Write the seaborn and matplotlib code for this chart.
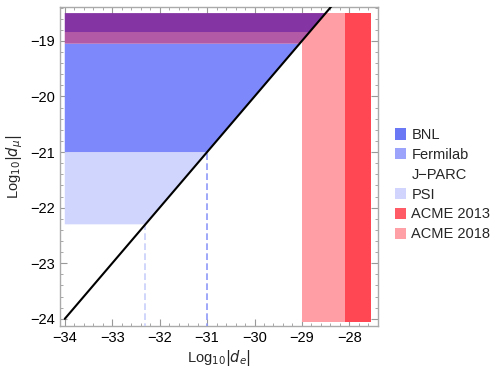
import numpy as np
import matplotlib
matplotlib.use("Agg")
import matplotlib.pyplot as plt
from matplotlib.patches import Patch
import seaborn as sns

# diagonal line (endpoints)
line_x = [-34.0, -27.4]
line_y = [-24.0, -17.4]

# horizontal muon-EDM bands: (lower, upper, colour) left of the line
band_lo = [-22.3, -21.0, -19.05, -18.84]
band_hi = [-21.0, -19.05, -18.84, -18.5]
band_col = ["#d0d5fd", "#7d89fb", "#b25aa6", "#8534a3"]

# electron-EDM bands: x ranges
acme_lo = [-29.0, -28.1]
acme_hi = [-28.1, -27.55]
acme_col = ["#ff9ea4", "#ff4753"]
acme_ylo = -24.05
acme_yhi = -18.5

# dashed projection lines
dash_x = [-32.3, -31.0]
dash_top = [-22.3, -21.0]
dash_col = ["#c8cefb", "#8e99f7"]

legend_labels = ["BNL", "Fermilab", "J\u2212PARC", "PSI", "ACME 2013", "ACME 2018"]
legend_cols = ["#6b78f6", "#9ba4fa", "none", "#d1d5fd", "#ff5b66", "#ff9fa6"]

sns.set_style("ticks")
plt.rcParams['font.family'] = ['Liberation Sans', 'DejaVu Sans']

fig = plt.figure(figsize=(4.92, 3.68), dpi=100)
ax = fig.add_axes([0.122, 0.114, 0.646, 0.867])

for lo, hi, c in zip(band_lo, band_hi, band_col):
    ys = np.array([lo, hi])
    xr = np.interp(ys, line_y, line_x)
    ax.fill([-34, xr[0], xr[1], -34], [lo, lo, hi, hi], color=c, lw=0, zorder=2)

for lo, hi, c in zip(acme_lo, acme_hi, acme_col):
    ax.fill_between([lo, hi], acme_ylo, acme_yhi, color=c, lw=0, zorder=1)

for x, top, c in zip(dash_x, dash_top, dash_col):
    ax.plot([x, x], [-24.2, top], ls=(0, (4, 2)), color=c, lw=1.2, zorder=3)

sns.lineplot(x=line_x, y=line_y, ax=ax, color="black", lw=1.5, zorder=4)

ax.set_xlim(-34.1, -27.42)
ax.set_ylim(-24.13, -18.39)
ax.set_xticks(np.arange(-34, -27, 1))
ax.set_yticks(np.arange(-24, -18, 1))
ax.set_xticklabels([f"\u2212{abs(v)}" for v in range(-34, -27)])
ax.set_yticklabels([f"\u2212{abs(v)}" for v in range(-24, -18)])
ax.set_xticks(np.arange(-34, -27.4, 0.2), minor=True)
ax.set_yticks(np.arange(-24, -18.3, 0.2), minor=True)
ax.tick_params(which="both", direction="in", top=True, right=True,
               color="#999999", labelsize=10.5, labelcolor="black")
ax.tick_params(which="major", length=5, width=0.8)
ax.tick_params(which="minor", length=2.5, width=0.6)
for s in ax.spines.values():
    s.set_color("#aaaaaa")
    s.set_linewidth(1.0)

ax.set_xlabel(r"Log$_{10}|d_e|$", fontsize=10.5, labelpad=2)
ax.set_ylabel(r"Log$_{10}|d_\mu|$", fontsize=10.5, labelpad=4)

handles = [Patch(facecolor=c, edgecolor="none") for c in legend_cols]
fig.legend(handles, legend_labels, loc="upper left",
           bbox_to_anchor=(0.79, 0.668), frameon=False, fontsize=10.5,
           handlelength=0.8, handleheight=0.8, handletextpad=0.35,
           labelspacing=0.4, borderaxespad=0.0)

fig.savefig("out.png", dpi=100)
